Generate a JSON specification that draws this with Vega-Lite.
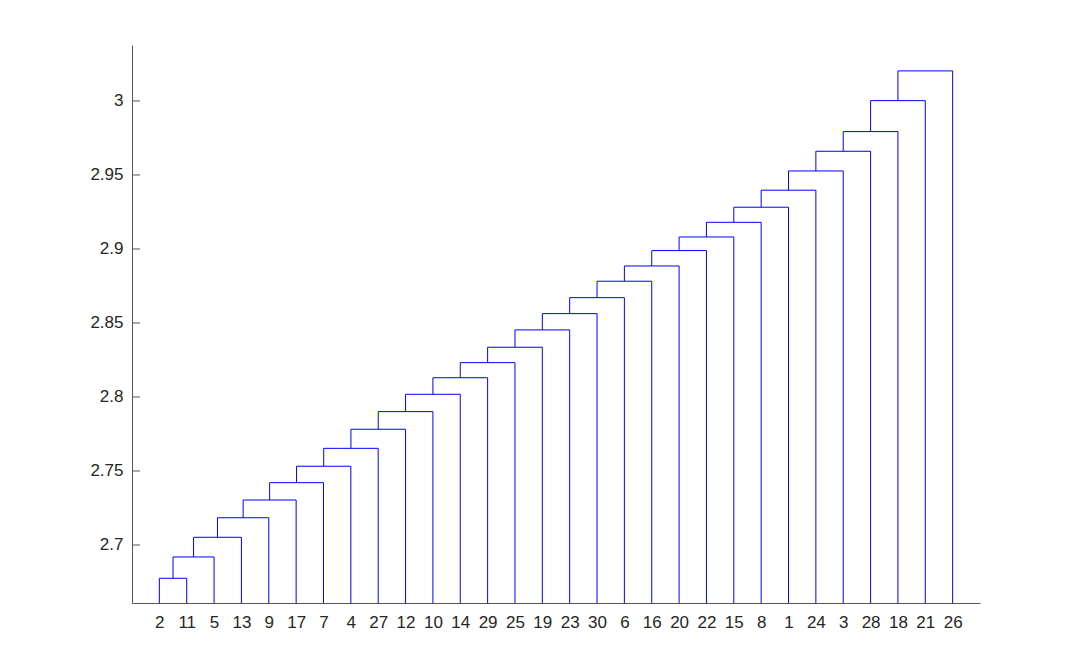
{
  "$schema": "https://vega.github.io/schema/vega-lite/v6.json",
  "width": 848,
  "height": 558,
  "autosize": {"type": "none"},
  "padding": {"left": 132, "top": 45, "right": 100, "bottom": 67},
  "background": "white",
  "config": {
    "view": {"stroke": null},
    "axis": {
      "labelFont": "Liberation Sans",
      "labelFontSize": 17,
      "labelColor": "#262626",
      "labelOverlap": false,
      "labelFlush": false,
      "domainColor": "#555555",
      "domainWidth": 1,
      "tickColor": "#555555",
      "tickWidth": 1,
      "grid": false,
      "title": null
    }
  },
  "datasets": {
    "merges": [
      {"k": 1, "xl": 1, "xr": 2, "h": 2.6775, "lb": 2.6, "rb": 2.6},
      {"k": 2, "xl": 1.5, "xr": 3, "h": 2.6919, "lb": 2.6775, "rb": 2.6},
      {"k": 3, "xl": 2.25, "xr": 4, "h": 2.7052, "lb": 2.6919, "rb": 2.6},
      {"k": 4, "xl": 3.125, "xr": 5, "h": 2.7184, "lb": 2.7052, "rb": 2.6},
      {"k": 5, "xl": 4.0625, "xr": 6, "h": 2.7304, "lb": 2.7184, "rb": 2.6},
      {"k": 6, "xl": 5.03125, "xr": 7, "h": 2.7421, "lb": 2.7304, "rb": 2.6},
      {"k": 7, "xl": 6.015625, "xr": 8, "h": 2.7532, "lb": 2.7421, "rb": 2.6},
      {"k": 8, "xl": 7.0078125, "xr": 9, "h": 2.7653, "lb": 2.7532, "rb": 2.6},
      {"k": 9, "xl": 8.00390625, "xr": 10, "h": 2.7782, "lb": 2.7653, "rb": 2.6},
      {"k": 10, "xl": 9.001953, "xr": 11, "h": 2.7901, "lb": 2.7782, "rb": 2.6},
      {"k": 11, "xl": 10.000977, "xr": 12, "h": 2.8018, "lb": 2.7901, "rb": 2.6},
      {"k": 12, "xl": 11.000488, "xr": 13, "h": 2.8130, "lb": 2.8018, "rb": 2.6},
      {"k": 13, "xl": 12.000244, "xr": 14, "h": 2.8232, "lb": 2.8130, "rb": 2.6},
      {"k": 14, "xl": 13.000122, "xr": 15, "h": 2.8336, "lb": 2.8232, "rb": 2.6},
      {"k": 15, "xl": 14.000061, "xr": 16, "h": 2.8453, "lb": 2.8336, "rb": 2.6},
      {"k": 16, "xl": 15.000031, "xr": 17, "h": 2.8563, "lb": 2.8453, "rb": 2.6},
      {"k": 17, "xl": 16.000015, "xr": 18, "h": 2.8671, "lb": 2.8563, "rb": 2.6},
      {"k": 18, "xl": 17.000008, "xr": 19, "h": 2.8782, "lb": 2.8671, "rb": 2.6},
      {"k": 19, "xl": 18.000004, "xr": 20, "h": 2.8885, "lb": 2.8782, "rb": 2.6},
      {"k": 20, "xl": 19.000002, "xr": 21, "h": 2.8989, "lb": 2.8885, "rb": 2.6},
      {"k": 21, "xl": 20.000001, "xr": 22, "h": 2.9081, "lb": 2.8989, "rb": 2.6},
      {"k": 22, "xl": 21.0, "xr": 23, "h": 2.9180, "lb": 2.9081, "rb": 2.6},
      {"k": 23, "xl": 22.0, "xr": 24, "h": 2.9282, "lb": 2.9180, "rb": 2.6},
      {"k": 24, "xl": 23.0, "xr": 25, "h": 2.9397, "lb": 2.9282, "rb": 2.6},
      {"k": 25, "xl": 24.0, "xr": 26, "h": 2.9527, "lb": 2.9397, "rb": 2.6},
      {"k": 26, "xl": 25.0, "xr": 27, "h": 2.9660, "lb": 2.9527, "rb": 2.6},
      {"k": 27, "xl": 26.0, "xr": 28, "h": 2.9793, "lb": 2.9660, "rb": 2.6},
      {"k": 28, "xl": 27.0, "xr": 29, "h": 3.0002, "lb": 2.9793, "rb": 2.6},
      {"k": 29, "xl": 28.0, "xr": 30, "h": 3.0203, "lb": 3.0002, "rb": 2.6}
    ],
    "yticks": [
      {"v": 2.7}, {"v": 2.75}, {"v": 2.8}, {"v": 2.85}, {"v": 2.9}, {"v": 2.95}, {"v": 3.0}
    ]
  },
  "layer": [
    {
      "data": {"name": "merges"},
      "mark": {"type": "rule", "color": "#0000ff", "strokeWidth": 1, "clip": true},
      "encoding": {
        "x": {
          "field": "xl", "type": "quantitative",
          "scale": {"domain": [0, 31], "nice": false, "zero": false},
          "axis": {
            "values": [1,2,3,4,5,6,7,8,9,10,11,12,13,14,15,16,17,18,19,20,21,22,23,24,25,26,27,28,29,30],
            "tickCount": 40,
            "labelExpr": "['2','11','5','13','9','17','7','4','27','12','10','14','29','25','19','23','30','6','16','20','22','15','8','1','24','3','28','18','21','26'][datum.value - 1]",
            "ticks": false,
            "labelPadding": 11,
            "labelFlush": false,
            "labelOverlap": false
          }
        },
        "x2": {"field": "xr"},
        "y": {
          "field": "h", "type": "quantitative",
          "scale": {"domain": [2.6608, 3.0378], "nice": false, "zero": false},
          "axis": {
            "values": [2.7, 2.75, 2.8, 2.85, 2.9, 2.95, 3.0],
            "tickCount": 20,
            "format": "~g",
            "ticks": false,
            "labelPadding": 9,
            "labelFlush": false,
            "labelOverlap": false
          }
        }
      }
    },
    {
      "data": {"name": "merges"},
      "mark": {"type": "rule", "color": "#0000ff", "strokeWidth": 1, "clip": true},
      "encoding": {
        "x": {"field": "xl", "type": "quantitative"},
        "y": {"field": "lb", "type": "quantitative"},
        "y2": {"field": "h"}
      }
    },
    {
      "data": {"name": "merges"},
      "mark": {"type": "rule", "color": "#0000ff", "strokeWidth": 1, "clip": true},
      "encoding": {
        "x": {"field": "xr", "type": "quantitative"},
        "y": {"field": "rb", "type": "quantitative"},
        "y2": {"field": "h"}
      }
    },
    {
      "data": {"name": "yticks"},
      "mark": {"type": "tick", "orient": "horizontal", "color": "#555555", "size": 8, "thickness": 1, "xOffset": 4, "opacity": 1},
      "encoding": {
        "x": {"datum": 0, "type": "quantitative"},
        "y": {"field": "v", "type": "quantitative"}
      }
    }
  ]
}
